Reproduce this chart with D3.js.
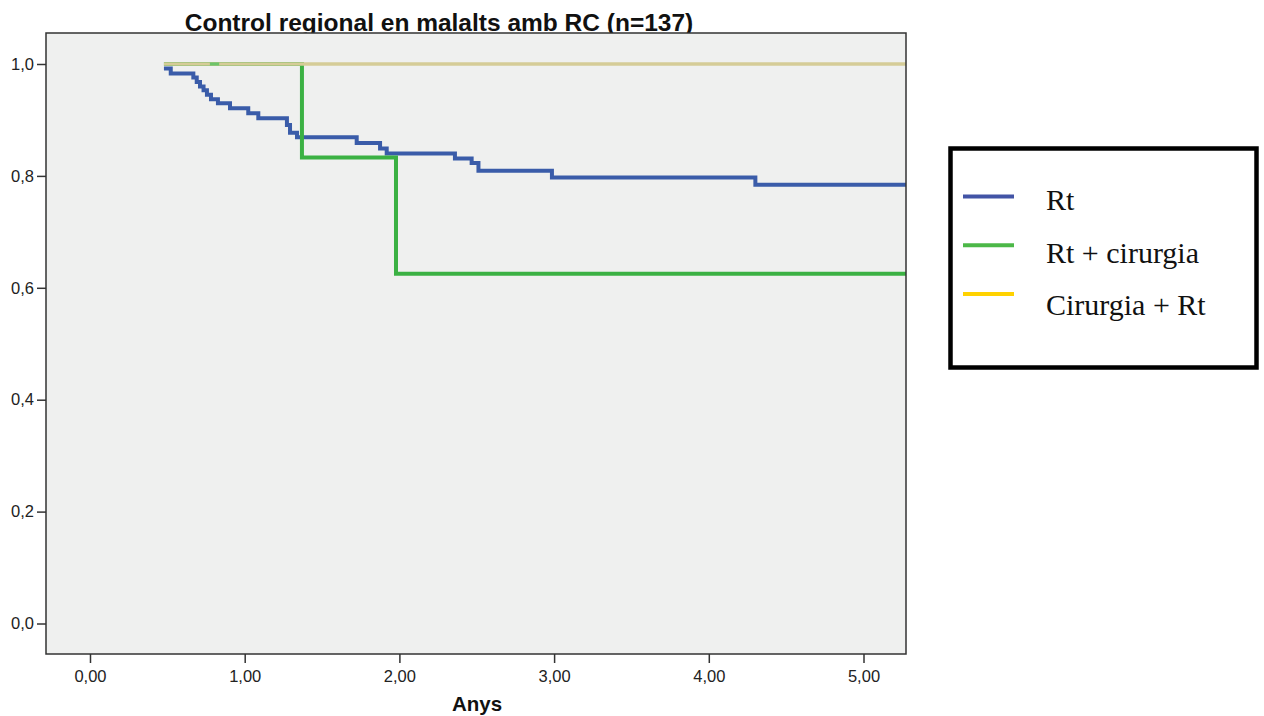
<!DOCTYPE html>
<html>
<head>
<meta charset="utf-8">
<script src="https://cdn.jsdelivr.net/npm/d3@7/dist/d3.min.js"></script>
<style>
  html, body { margin: 0; padding: 0; background: #ffffff; }
  svg { display: block; }
</style>
</head>
<body>
<svg id="chart" width="1264" height="716"></svg>
<script>
// Kaplan-Meier estimates of regional control, by treatment group
// Each series: [time in years, survival after the event], drawn as step-after
const rtSeries = [
  [0.478, 0.992], [0.522, 0.983], [0.668, 0.976], [0.690, 0.968],
  [0.711, 0.960], [0.734, 0.953], [0.756, 0.945], [0.782, 0.937],
  [0.827, 0.930], [0.905, 0.921], [1.023, 0.912], [1.088, 0.903],
  [1.273, 0.891], [1.293, 0.877], [1.338, 0.869], [1.724, 0.859],
  [1.875, 0.849], [1.918, 0.840], [2.359, 0.831], [2.467, 0.823],
  [2.511, 0.809], [2.986, 0.797], [4.301, 0.784], [5.30, 0.784]
];
const rtCirurgiaSeries = [
  [0.478, 1.0], [1.370, 0.833], [1.978, 0.625], [5.30, 0.625]
];
const cirurgiaRtSeries = [
  [0.478, 1.0], [5.30, 1.0]
];
// censored stretch of the Rt + cirurgia group visible at the top
const rtCirurgiaCensor = [[0.775, 1.0], [0.835, 1.0]];

const seriesNames = ["Rt", "Rt + cirurgia", "Cirurgia + Rt"];
const seriesColors = ["#3a5ca9", "#3bb143", "#d5cc97"];
const legendColors = ["#4254a6", "#4cb848", "#ffd200"];

const xTicks = [0, 1, 2, 3, 4, 5];
const xTickLabels = ["0,00", "1,00", "2,00", "3,00", "4,00", "5,00"];
const yTicks = [0, 0.2, 0.4, 0.6, 0.8, 1.0];
const yTickLabels = ["0,0", "0,2", "0,4", "0,6", "0,8", "1,0"];

const titleText = "Control regional en malalts amb RC (n=137)";
const xTitle = "Anys";

const svg = d3.select("#chart");

const plot = { left: 46, top: 33, right: 906, bottom: 654 };

const x = d3.scaleLinear().domain([-0.2844, 5.2747]).range([plot.left, plot.right]);
const y = d3.scaleLinear().domain([-0.0545, 1.0554]).range([plot.bottom, plot.top]);

// title (the plot frame is drawn over its lower edge)
svg.append("text")
  .attr("x", 439).attr("y", 31)
  .attr("text-anchor", "middle")
  .attr("font-family", "Liberation Sans, Arial, sans-serif")
  .attr("font-weight", "bold")
  .attr("font-size", 24.5)
  .attr("fill", "#111")
  .text(titleText);

// plot background
svg.append("rect")
  .attr("x", plot.left).attr("y", plot.top)
  .attr("width", plot.right - plot.left).attr("height", plot.bottom - plot.top)
  .attr("fill", "#eff0ef");

svg.append("clipPath").attr("id", "plotClip")
  .append("rect")
  .attr("x", plot.left).attr("y", plot.top)
  .attr("width", plot.right - plot.left).attr("height", plot.bottom - plot.top);

const line = d3.line()
  .x(d => x(d[0]))
  .y(d => y(d[1]))
  .curve(d3.curveStepAfter);

const curves = svg.append("g").attr("clip-path", "url(#plotClip)");

curves.append("path").datum(rtSeries)
  .attr("d", line).attr("fill", "none")
  .attr("stroke", seriesColors[0]).attr("stroke-width", 4)
  .attr("stroke-linejoin", "miter");

curves.append("path").datum(rtCirurgiaSeries)
  .attr("d", line).attr("fill", "none")
  .attr("stroke", seriesColors[1]).attr("stroke-width", 4);

curves.append("path").datum(cirurgiaRtSeries)
  .attr("d", line).attr("fill", "none")
  .attr("stroke", seriesColors[2]).attr("stroke-width", 3.6);

curves.append("path").datum(rtCirurgiaCensor)
  .attr("d", d3.line().x(d => x(d[0])).y(d => y(d[1])))
  .attr("fill", "none")
  .attr("stroke", "#6cc46a").attr("stroke-width", 3);

// frame
svg.append("rect")
  .attr("x", plot.left).attr("y", plot.top)
  .attr("width", plot.right - plot.left).attr("height", plot.bottom - plot.top)
  .attr("fill", "none").attr("stroke", "#333").attr("stroke-width", 1.5);

// y axis
const yAxis = d3.axisLeft(y)
  .tickValues(yTicks)
  .tickSize(9)
  .tickPadding(3)
  .tickFormat((d, i) => yTickLabels[i]);

const gy = svg.append("g")
  .attr("transform", `translate(${plot.left},0)`)
  .attr("font-size", null)
  .call(yAxis);
gy.select(".domain").remove();
gy.selectAll(".tick line").attr("stroke", "#333").attr("stroke-width", 1.5);
gy.selectAll(".tick text")
  .style("font-family", "Liberation Sans, Arial, sans-serif")
  .style("font-size", "16.5px").attr("fill", "#222");

// x axis
const xAxis = d3.axisBottom(x)
  .tickValues(xTicks)
  .tickSize(9)
  .tickPadding(7)
  .tickFormat((d, i) => xTickLabels[i]);

const gx = svg.append("g")
  .attr("transform", `translate(0,${plot.bottom})`)
  .call(xAxis);
gx.select(".domain").remove();
gx.selectAll(".tick line").attr("stroke", "#333").attr("stroke-width", 1.5);
gx.selectAll(".tick text")
  .style("font-family", "Liberation Sans, Arial, sans-serif")
  .style("font-size", "16.5px").attr("fill", "#222");

svg.append("text")
  .attr("x", 477).attr("y", 711)
  .attr("text-anchor", "middle")
  .attr("font-family", "Liberation Sans, Arial, sans-serif")
  .attr("font-weight", "bold")
  .attr("font-size", 20.5)
  .attr("fill", "#111")
  .text(xTitle);

// legend
const legend = svg.append("g");
legend.append("rect")
  .attr("x", 950.5).attr("y", 148.5)
  .attr("width", 306).attr("height", 219)
  .attr("fill", "#fff").attr("stroke", "#000").attr("stroke-width", 4.5);

const legendRows = seriesNames.map((name, i) => ({ name, color: legendColors[i], i }));
const swatchY = d3.scalePoint().domain(legendRows.map(d => d.i)).range([196.5, 294]);
const labelY = d3.scalePoint().domain(legendRows.map(d => d.i)).range([210, 315]);

const rows = legend.selectAll(".row").data(legendRows).enter().append("g");
rows.append("line")
  .attr("x1", 963).attr("x2", 1014)
  .attr("y1", d => swatchY(d.i)).attr("y2", d => swatchY(d.i))
  .attr("stroke", d => d.color).attr("stroke-width", 4);
rows.append("text")
  .attr("x", 1046).attr("y", d => labelY(d.i))
  .attr("font-family", "Liberation Serif, Times New Roman, serif")
  .attr("font-size", 30)
  .attr("fill", "#111")
  .text(d => d.name);
</script>
</body>
</html>
